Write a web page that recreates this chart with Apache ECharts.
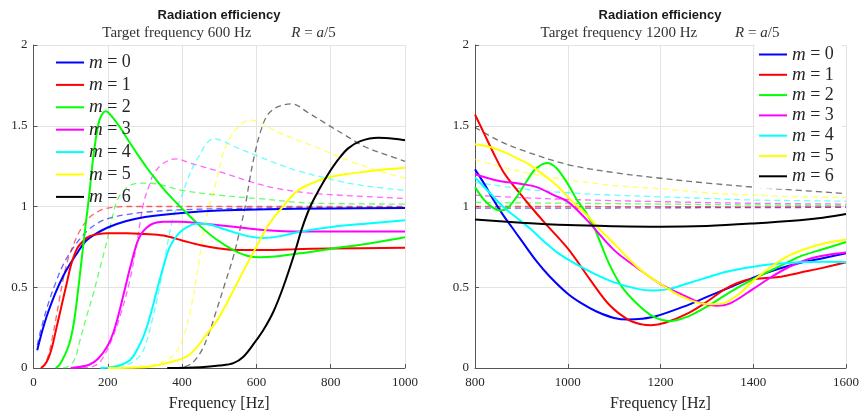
<!DOCTYPE html>
<html>
<head>
<meta charset="utf-8">
<script src="https://cdn.jsdelivr.net/npm/echarts@6/dist/echarts.min.js"></script>
<style>html,body{margin:0;padding:0;background:#fff}#c{width:861px;height:411px}</style>
</head>
<body>
<div id="c"></div>
<script>
// ---------- Data (frequency [Hz], radiation efficiency) ----------
const xTicksLeft = [0, 200, 400, 600, 800, 1000];
const xTicksRight = [800, 1000, 1200, 1400, 1600];
const yTicks = [0, 0.5, 1, 1.5, 2];
const modes = ['0', '1', '2', '3', '4', '5', '6'];
const colors = ['#0000ff', '#ff0000', '#00ff00', '#ff00ff', '#00ffff', '#ffff00', '#000000'];

// Left: target frequency 600 Hz — solid curves
const L0s = [[10,0.11],[20,0.2],[30,0.28],[40,0.35],[60,0.47],[80,0.57],[100,0.65],[120,0.72],[140,0.785],[160,0.82],[200,0.87],[250,0.91],[300,0.935],[400,0.96],[500,0.975],[600,0.982],[800,0.988],[1000,0.99]];
const L1s = [[20,0.0],[30,0.02],[40,0.06],[50,0.13],[60,0.23],[70,0.33],[80,0.43],[90,0.53],[100,0.63],[110,0.7],[120,0.75],[135,0.79],[150,0.815],[175,0.83],[200,0.835],[250,0.835],[300,0.83],[350,0.82],[400,0.79],[450,0.76],[500,0.74],[550,0.73],[600,0.73],[700,0.735],[800,0.74],[1000,0.745]];
const L2s = [[60,0.0],[70,0.02],[80,0.06],[90,0.11],[100,0.18],[110,0.3],[120,0.48],[130,0.68],[140,0.88],[150,1.07],[160,1.29],[170,1.45],[180,1.55],[195,1.59],[210,1.56],[233,1.49],[255,1.41],[278,1.33],[305,1.24],[332,1.16],[365,1.07],[403,0.98],[448,0.88],[490,0.8],[538,0.73],[575,0.695],[610,0.685],[650,0.69],[700,0.705],[750,0.72],[807,0.74],[900,0.77],[1000,0.81]];
const L3s = [[100,0.0],[150,0.02],[175,0.06],[200,0.14],[215,0.22],[230,0.34],[245,0.48],[260,0.62],[278,0.77],[290,0.83],[305,0.87],[322,0.895],[350,0.905],[394,0.906],[450,0.895],[538,0.875],[620,0.855],[717,0.845],[850,0.845],[1000,0.845]];
const L4s = [[180,0.0],[220,0.01],[260,0.05],[287,0.15],[300,0.22],[315,0.33],[332,0.48],[350,0.63],[367,0.75],[390,0.83],[412,0.87],[440,0.895],[470,0.89],[500,0.87],[540,0.84],[580,0.815],[618,0.805],[660,0.815],[720,0.845],[807,0.875],[900,0.895],[1000,0.915]];
const L5s = [[200,0.0],[300,0.005],[359,0.03],[412,0.07],[440,0.13],[466,0.21],[493,0.29],[520,0.4],[547,0.52],[574,0.64],[600,0.75],[628,0.87],[650,0.94],[668,0.99],[690,1.05],[712,1.1],[750,1.145],[785,1.175],[840,1.2],[892,1.215],[950,1.23],[1000,1.24]];
const L6s = [[360,0.0],[450,0.005],[500,0.015],[538,0.03],[565,0.07],[596,0.16],[620,0.24],[646,0.35],[672,0.5],[704,0.72],[722,0.86],[745,1.0],[770,1.11],[793,1.2],[820,1.29],[847,1.36],[880,1.405],[928,1.426],[970,1.42],[1000,1.41]];
// Left — dashed curves
const L0d = [[10,0.14],[20,0.24],[40,0.4],[60,0.53],[80,0.64],[100,0.72],[125,0.8],[150,0.86],[175,0.9],[200,0.925],[250,0.95],[300,0.965],[400,0.98],[600,0.99],[1000,0.995]];
const L1d = [[20,0.0],[30,0.02],[40,0.08],[50,0.18],[60,0.3],[70,0.43],[80,0.55],[90,0.65],[100,0.72],[125,0.85],[150,0.93],[175,0.97],[200,0.99],[250,1.0],[1000,1.0]];
const L2d = [[80,0.0],[90,0.005],[110,0.05],[125,0.17],[143,0.32],[161,0.46],[179,0.62],[197,0.78],[215,0.96],[230,1.06],[260,1.13],[290,1.145],[330,1.14],[400,1.1],[500,1.07],[600,1.05],[760,1.02],[1000,1.015]];
const L3d = [[130,0.0],[160,0.01],[180,0.04],[206,0.15],[233,0.32],[260,0.55],[280,0.8],[296,1.02],[310,1.12],[323,1.2],[345,1.26],[370,1.29],[385,1.295],[420,1.27],[502,1.215],[596,1.145],[660,1.11],[758,1.08],[1000,1.05]];
const L4d = [[200,0.0],[250,0.02],[275,0.05],[296,0.11],[320,0.3],[341,0.52],[360,0.76],[377,0.94],[395,1.04],[412,1.15],[430,1.25],[450,1.33],[466,1.39],[484,1.42],[510,1.405],[542,1.37],[596,1.32],[650,1.27],[704,1.226],[780,1.18],[847,1.145],[920,1.12],[1000,1.1]];
const L5d = [[260,0.0],[320,0.02],[350,0.04],[377,0.08],[400,0.17],[421,0.34],[440,0.58],[457,0.83],[475,1.02],[489,1.13],[515,1.36],[542,1.47],[565,1.52],[583,1.535],[610,1.52],[650,1.47],[700,1.42],[758,1.37],[810,1.32],[865,1.27],[930,1.22],[1000,1.175]];
const L6d = [[380,0.0],[420,0.02],[448,0.09],[470,0.2],[493,0.36],[515,0.52],[538,0.69],[556,0.86],[569,0.99],[583,1.18],[596,1.33],[612,1.47],[631,1.57],[660,1.62],[695,1.635],[740,1.58],[793,1.505],[840,1.44],[892,1.37],[950,1.32],[1000,1.28]];

// Right: target frequency 1200 Hz — solid curves
const R0s = [[800,1.23],[820,1.14],[840,1.04],[860,0.95],[880,0.87],[900,0.79],[933,0.66],[960,0.57],[1000,0.46],[1030,0.4],[1062,0.35],[1100,0.31],[1130,0.3],[1160,0.305],[1190,0.32],[1250,0.38],[1300,0.44],[1350,0.5],[1400,0.56],[1450,0.61],[1500,0.65],[1550,0.68],[1600,0.71]];
const R1s = [[800,1.57],[820,1.45],[840,1.33],[860,1.22],[880,1.14],[900,1.07],[920,1.0],[950,0.9],[1000,0.74],[1050,0.54],[1090,0.39],[1130,0.3],[1160,0.27],[1180,0.265],[1210,0.28],[1260,0.34],[1300,0.41],[1340,0.49],[1380,0.54],[1420,0.555],[1460,0.565],[1500,0.59],[1550,0.62],[1600,0.655]];
const R2s = [[800,1.12],[820,1.04],[840,0.99],[855,0.975],[870,0.99],[890,1.06],[910,1.15],[930,1.23],[955,1.27],[975,1.24],[1000,1.14],[1020,1.04],[1040,0.96],[1060,0.85],[1090,0.64],[1120,0.49],[1160,0.37],[1190,0.31],[1220,0.29],[1260,0.32],[1300,0.38],[1350,0.47],[1400,0.55],[1450,0.62],[1500,0.69],[1550,0.735],[1600,0.78]];
const R3s = [[800,1.2],[850,1.16],[900,1.14],[933,1.12],[970,1.07],[1000,1.03],[1040,0.92],[1100,0.73],[1150,0.62],[1200,0.52],[1250,0.45],[1290,0.4],[1320,0.385],[1350,0.4],[1400,0.49],[1440,0.565],[1480,0.63],[1520,0.675],[1560,0.7],[1600,0.715]];
const R4s = [[800,1.18],[830,1.09],[860,1.0],[890,0.93],[920,0.86],[950,0.78],[980,0.71],[1020,0.64],[1060,0.58],[1100,0.53],[1150,0.49],[1180,0.48],[1220,0.49],[1260,0.525],[1300,0.56],[1340,0.595],[1400,0.627],[1450,0.645],[1500,0.655],[1550,0.658],[1600,0.656]];
const R5s = [[800,1.385],[830,1.37],[860,1.34],[890,1.3],[920,1.255],[950,1.19],[980,1.12],[1010,1.03],[1040,0.95],[1070,0.855],[1100,0.77],[1130,0.68],[1160,0.6],[1200,0.52],[1240,0.45],[1280,0.405],[1310,0.395],[1340,0.405],[1370,0.46],[1400,0.54],[1440,0.63],[1480,0.7],[1520,0.745],[1560,0.775],[1600,0.795]];
const R6s = [[800,0.92],[900,0.9],[1000,0.885],[1100,0.878],[1200,0.875],[1300,0.88],[1400,0.895],[1500,0.915],[1550,0.93],[1600,0.953]];
// Right — dashed curves
const R0d = [[800,0.99],[1000,0.99],[1200,0.992],[1400,0.993],[1600,0.995]];
const R1d = [[800,1.0],[1000,1.0],[1200,0.999],[1400,0.998],[1600,0.998]];
const R2d = [[800,1.025],[1000,1.02],[1200,1.015],[1400,1.01],[1600,1.005]];
const R3d = [[800,1.07],[900,1.055],[1000,1.044],[1200,1.03],[1400,1.02],[1600,1.015]];
const R4d = [[800,1.15],[900,1.11],[1000,1.085],[1100,1.07],[1200,1.06],[1300,1.05],[1400,1.04],[1500,1.036],[1600,1.033]];
const R5d = [[800,1.29],[900,1.215],[1000,1.165],[1100,1.13],[1200,1.11],[1300,1.085],[1400,1.07],[1500,1.06],[1600,1.055]];
const R6d = [[800,1.49],[850,1.41],[900,1.35],[1000,1.26],[1100,1.21],[1200,1.175],[1300,1.145],[1400,1.12],[1500,1.1],[1600,1.08]];

const leftSolid = [L0s, L1s, L2s, L3s, L4s, L5s, L6s];
const leftDashed = [L0d, L1d, L2d, L3d, L4d, L5d, L6d];
const rightSolid = [R0s, R1s, R2s, R3s, R4s, R5s, R6s];
const rightDashed = [R0d, R1d, R2d, R3d, R4d, R5d, R6d];

// ---------- Chart ----------
const SERIF = '"Liberation Serif", "DejaVu Serif", serif';
const SANS = '"Liberation Sans", Arial, sans-serif';
const TXT = '#262626';

function xAxisCfg(idx, ticks) {
  return {
    type: 'value', gridIndex: idx, min: ticks[0], max: ticks[ticks.length - 1], interval: ticks[1] - ticks[0],
    name: 'Frequency [Hz]', nameLocation: 'middle', nameGap: 28,
    nameTextStyle: { fontFamily: SERIF, fontSize: 16, color: TXT },
    axisLine: { show: true, lineStyle: { color: '#555', width: 1 } },
    axisTick: { show: true, inside: true, length: 4, lineStyle: { color: '#555' } },
    axisLabel: { fontFamily: SERIF, fontSize: 13, color: TXT, margin: 8, formatter: v => String(v) },
    splitLine: { show: true, lineStyle: { color: '#e3e3e3', width: 1 } }
  };
}
function yAxisCfg(idx) {
  return {
    type: 'value', gridIndex: idx, min: yTicks[0], max: yTicks[yTicks.length - 1], interval: yTicks[1] - yTicks[0],
    axisLine: { show: true, lineStyle: { color: '#555', width: 1 } },
    axisTick: { show: true, inside: true, length: 4, lineStyle: { color: '#555' } },
    axisLabel: { fontFamily: SERIF, fontSize: 13, color: TXT, margin: 6, formatter: v => String(v) },
    splitLine: { show: true, lineStyle: { color: '#e3e3e3', width: 1 } }
  };
}

const series = [];
function addSeries(prefix, dashedArr, solidArr, axisIdx) {
  dashedArr.forEach((d, i) => {
    series.push({
      name: prefix + i + 'd', type: 'line', xAxisIndex: axisIdx, yAxisIndex: axisIdx,
      data: d, symbol: 'none', smooth: 0.35, silent: true,
      lineStyle: { color: colors[i], width: 1.3, type: [6, 4], opacity: i === 6 ? 0.55 : 0.6 },
      itemStyle: { color: colors[i] }, z: 2
    });
  });
  solidArr.forEach((d, i) => {
    series.push({
      name: prefix + i, type: 'line', xAxisIndex: axisIdx, yAxisIndex: axisIdx,
      data: d, symbol: 'none', smooth: 0.35, silent: true,
      lineStyle: { color: colors[i], width: 2 },
      itemStyle: { color: colors[i] }, z: 3
    });
  });
}
addSeries('L', leftDashed, leftSolid, 0);
addSeries('R', rightDashed, rightSolid, 1);

const legendRich = {
  i: { fontFamily: SERIF, fontStyle: 'italic', fontSize: 19, color: TXT, lineHeight: 16 },
  t: { fontFamily: SERIF, fontSize: 18, color: TXT, lineHeight: 16 }
};
function legendFmt(name) { return '{i|m}{t| = ' + name.slice(1) + '}'; }
const hiddenSymbol = { color: 'rgba(0,0,0,0)', borderColor: 'rgba(0,0,0,0)', borderWidth: 0, opacity: 0 };

const option = {
  animation: false,
  backgroundColor: '#fff',
  grid: [
    { left: 33.5, top: 45, width: 371.5, height: 323, outerBoundsMode: 'none', containLabel: false },
    { left: 475, top: 45, width: 371, height: 323, outerBoundsMode: 'none', containLabel: false }
  ],
  xAxis: [xAxisCfg(0, xTicksLeft), xAxisCfg(1, xTicksRight)],
  yAxis: [yAxisCfg(0), yAxisCfg(1)],
  legend: [
    {
      data: modes.map(m => 'L' + m), orient: 'vertical', left: 55, top: 53,
      padding: 0, itemWidth: 28, itemHeight: 16, itemGap: 3.4,
      itemStyle: hiddenSymbol,
      formatter: legendFmt, textStyle: { rich: legendRich }, selectedMode: false
    },
    {
      data: modes.map(m => 'R' + m), orient: 'vertical', left: 755, top: 45,
      padding: [0, 8, 3, 3], itemWidth: 28, itemHeight: 16, itemGap: 1.3,
      backgroundColor: '#ffffff', itemStyle: hiddenSymbol,
      formatter: legendFmt, textStyle: { rich: legendRich }, selectedMode: false
    }
  ],
  graphic: [
    { type: 'text', x: 219, y: 15, style: { text: 'Radiation efficiency', font: 'bold 13px ' + SANS, fill: '#1a1a1a', align: 'center', verticalAlign: 'middle' } },
    { type: 'text', x: 660, y: 15, style: { text: 'Radiation efficiency', font: 'bold 13px ' + SANS, fill: '#1a1a1a', align: 'center', verticalAlign: 'middle' } },
    { type: 'text', x: 219, y: 33, style: {
      text: '{r|Target frequency 600 Hz}{s|}{i|R}{r| = }{i|a}{r|/5}', align: 'center', verticalAlign: 'middle',
      rich: { r: { fontFamily: SERIF, fontSize: 15, fill: '#333' }, i: { fontFamily: SERIF, fontStyle: 'italic', fontSize: 15, fill: '#333' }, s: { width: 40 } } } },
    { type: 'text', x: 660, y: 33, style: {
      text: '{r|Target frequency 1200 Hz}{s|}{i|R}{r| = }{i|a}{r|/5}', align: 'center', verticalAlign: 'middle',
      rich: { r: { fontFamily: SERIF, fontSize: 15, fill: '#333' }, i: { fontFamily: SERIF, fontStyle: 'italic', fontSize: 15, fill: '#333' }, s: { width: 38 } } } }
  ],
  series: series
};

const chart = echarts.init(document.getElementById('c'), null, { renderer: 'canvas' });
chart.setOption(option);
</script>
</body>
</html>
